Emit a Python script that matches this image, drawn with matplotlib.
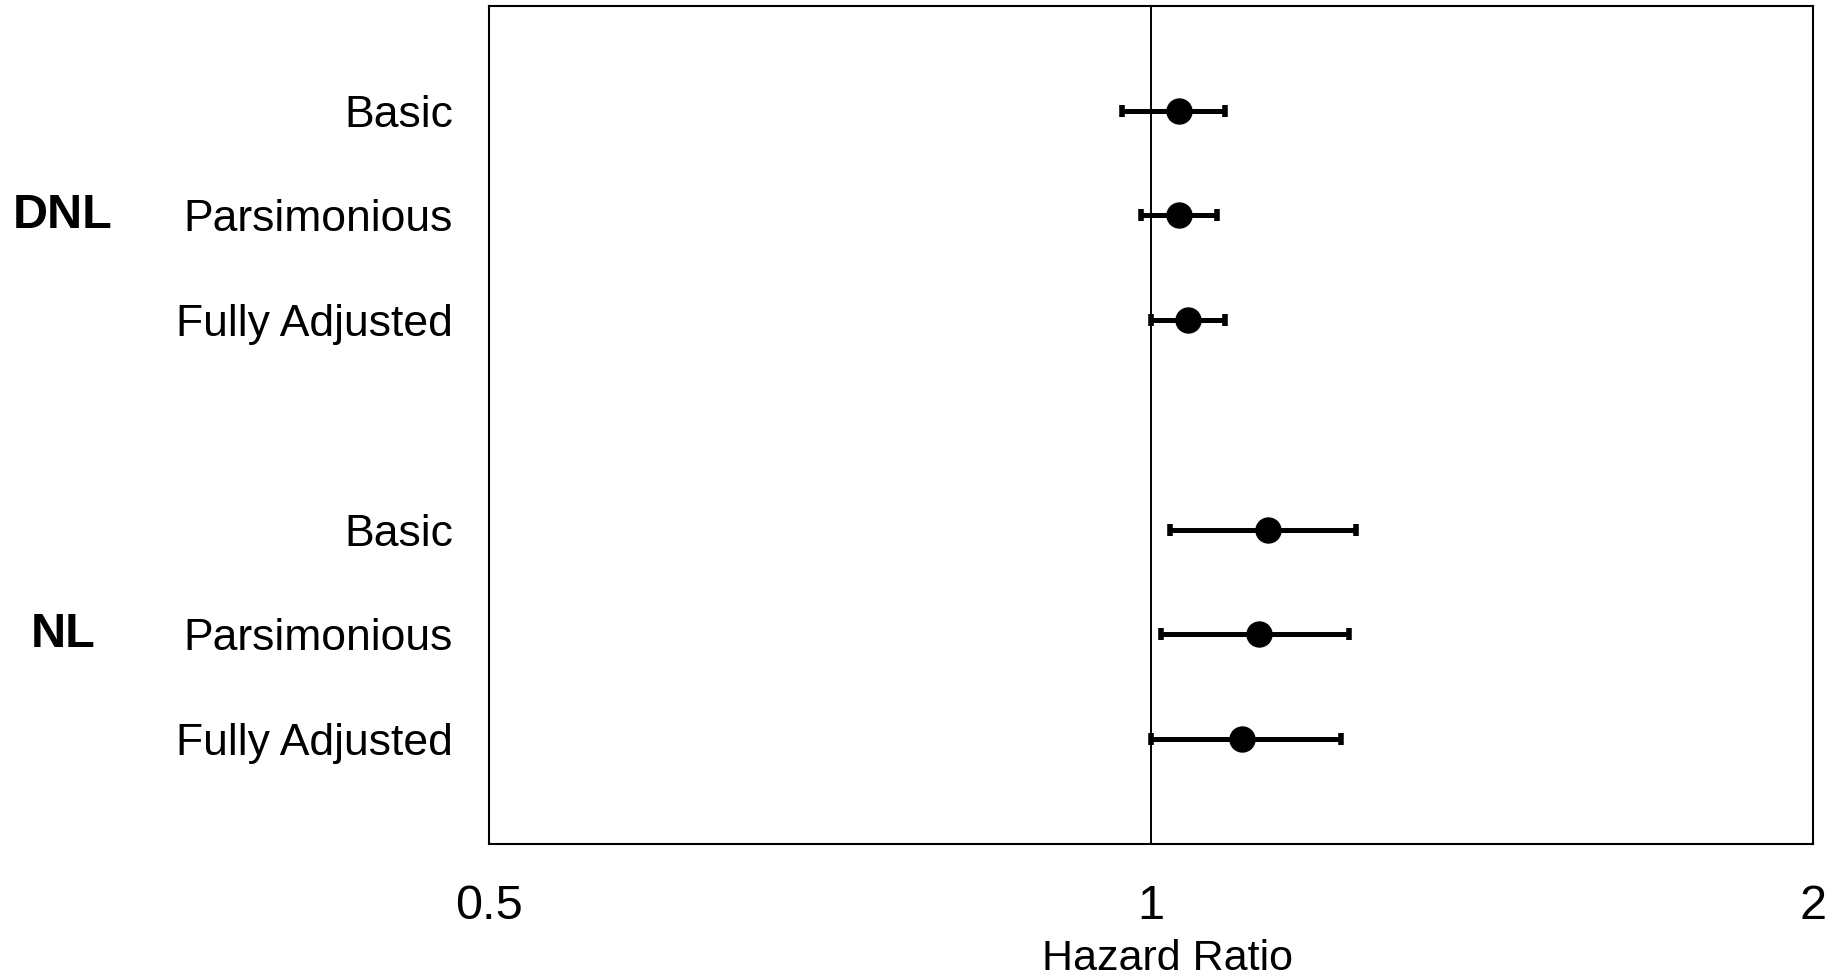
import matplotlib
matplotlib.use("Agg")
import matplotlib.pyplot as plt
from matplotlib.ticker import FixedLocator, NullLocator
from matplotlib.transforms import blended_transform_factory

plt.rcParams['font.family'] = ['Liberation Sans', 'DejaVu Sans']

groups = ["DNL", "NL"]
models = ["Basic", "Parsimonious", "Fully Adjusted"]
hr = [1.030, 1.030, 1.040, 1.130, 1.120, 1.100]
ci_low = [0.970, 0.990, 1.000, 1.020, 1.011, 1.000]
ci_high = [1.080, 1.071, 1.080, 1.240, 1.230, 1.220]
xticks = [0.5, 1, 2]
xtick_labels = ["0.5", "1", "2"]

ypos = [1, 2, 3, 5, 6, 7]
row_labels = models + models

fig = plt.figure(figsize=(18.39, 9.80), dpi=100)
ax = fig.add_axes([0.2659, 0.1388, 0.9859 - 0.2659, 0.9939 - 0.1388])

ax.set_xscale('log')
ax.set_xlim(0.5, 2)
ax.set_ylim(8, 0)

ax.axvline(1, color='black', lw=1.4, zorder=1)

err_lo = [h - l for h, l in zip(hr, ci_low)]
err_hi = [u - h for h, u in zip(hr, ci_high)]
ax.errorbar(hr, ypos, xerr=[err_lo, err_hi], fmt='o', color='black',
            markersize=18, elinewidth=3.6, capsize=4.5, capthick=4, zorder=3)

ax.xaxis.set_major_locator(FixedLocator(xticks))
ax.xaxis.set_minor_locator(NullLocator())
ax.set_xticklabels(xtick_labels)
ax.tick_params(axis='x', length=0, pad=29, labelsize=35)

ax.set_yticks(ypos)
ax.set_yticklabels(row_labels)
ax.tick_params(axis='y', length=0, pad=26, labelsize=32)

for sp in ax.spines.values():
    sp.set_linewidth(1.5)
    sp.set_color('black')

fig.text(1168 / 1839, 10 / 980, "Hazard Ratio", fontsize=31,
         ha='center', va='baseline')

tr = blended_transform_factory(fig.transFigure, ax.transData)
for g, yc in zip(groups, [2, 6]):
    ax.text(63 / 1839, yc, g, transform=tr, fontsize=35, fontweight='bold',
            ha='center', va='center', clip_on=False)

fig.savefig("out.png", dpi=100)
